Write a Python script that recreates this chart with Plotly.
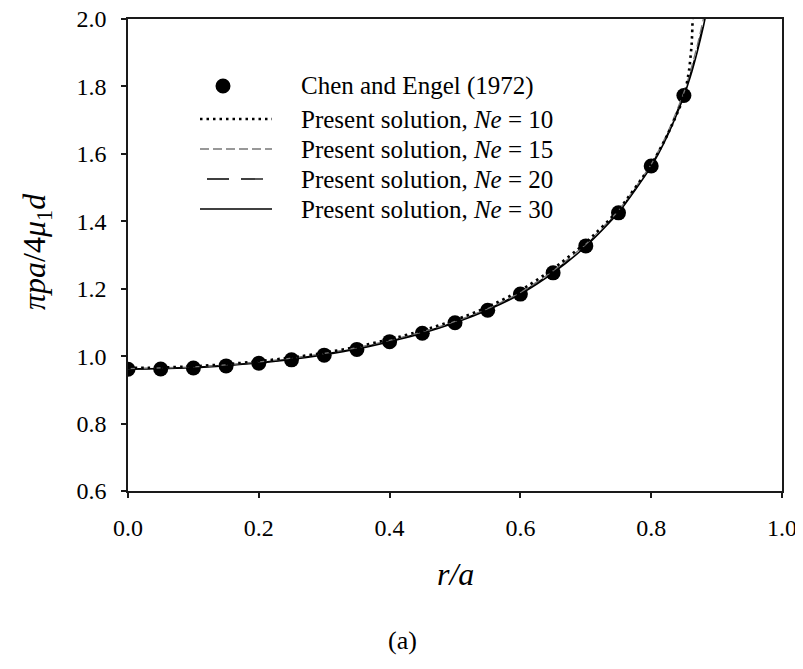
import plotly.graph_objects as go

# ---------------- data ----------------
r_exp = [0.00, 0.05, 0.10, 0.15, 0.20, 0.25, 0.30, 0.35, 0.40, 0.45,
         0.50, 0.55, 0.60, 0.65, 0.70, 0.75, 0.80, 0.85]
p_exp = [0.961, 0.962, 0.965, 0.971, 0.979, 0.989, 1.003, 1.020, 1.043, 1.068,
         1.099, 1.136, 1.184, 1.247, 1.327, 1.425, 1.564, 1.773]

r_ne30 = [0.00, 0.05, 0.10, 0.15, 0.20, 0.25, 0.30, 0.35, 0.40, 0.45, 0.50,
          0.55, 0.60, 0.65, 0.70, 0.75, 0.80, 0.825, 0.85, 0.86, 0.87, 0.88, 0.89]
p_ne30 = [0.961, 0.963, 0.966, 0.972, 0.980, 0.990, 1.004, 1.021, 1.043, 1.068, 1.099,
          1.137, 1.184, 1.247, 1.326, 1.426, 1.563, 1.655, 1.772, 1.830, 1.900, 1.980, 2.075]

r_ne20 = r_ne30
p_ne20 = [0.962, 0.964, 0.967, 0.973, 0.981, 0.992, 1.006, 1.023, 1.045, 1.070, 1.101,
          1.139, 1.187, 1.250, 1.329, 1.429, 1.566, 1.659, 1.777, 1.837, 1.908, 1.990, 2.085]

r_ne15 = r_ne30
p_ne15 = [0.963, 0.965, 0.968, 0.974, 0.983, 0.994, 1.008, 1.025, 1.047, 1.072, 1.103,
          1.141, 1.189, 1.253, 1.332, 1.432, 1.569, 1.663, 1.782, 1.845, 1.918, 2.002, 2.095]

r_ne10 = [0.00, 0.05, 0.10, 0.15, 0.20, 0.25, 0.30, 0.35, 0.40, 0.45, 0.50,
          0.55, 0.60, 0.65, 0.70, 0.75, 0.80, 0.825, 0.85, 0.858, 0.862, 0.864]
p_ne10 = [0.965, 0.966, 0.970, 0.976, 0.985, 0.996, 1.010, 1.028, 1.050, 1.076, 1.107,
          1.146, 1.195, 1.259, 1.337, 1.434, 1.568, 1.657, 1.770, 1.850, 1.930, 2.050]

x_ticks = [0.0, 0.2, 0.4, 0.6, 0.8, 1.0]
y_ticks = [0.6, 0.8, 1.0, 1.2, 1.4, 1.6, 1.8, 2.0]

legend_labels = ["Chen and Engel (1972)",
                 "Present solution, <i>Ne</i> = 10",
                 "Present solution, <i>Ne</i> = 15",
                 "Present solution, <i>Ne</i> = 20",
                 "Present solution, <i>Ne</i> = 30"]

# ---------------- figure ----------------
FONT = "Liberation Serif"
OFF = 8                      # default page (body) margin of the html page
W, H = 803 - OFF, 669 - OFF
L, R, T, B = 128 - OFF, 21, 19 - OFF, 178
PW, PH = W - L - R, H - T - B


def px_x(px):
    return (px - OFF - L) / PW


def px_y(py):
    return (OFF + H - B - py) / PH


fig = go.Figure()

fig.add_trace(go.Scatter(x=r_exp, y=p_exp, mode="markers",
                         marker=dict(symbol="circle", size=15, color="black",
                                     line=dict(width=0)),
                         showlegend=False))
fig.add_trace(go.Scatter(x=r_ne30, y=p_ne30, mode="lines",
                         line=dict(color="black", width=1.6, shape="spline", smoothing=0.6),
                         showlegend=False))
fig.add_trace(go.Scatter(x=r_ne20, y=p_ne20, mode="lines",
                         line=dict(color="black", width=1.3, dash="22px,12px",
                                   shape="spline", smoothing=0.6),
                         showlegend=False))
fig.add_trace(go.Scatter(x=r_ne15, y=p_ne15, mode="lines",
                         line=dict(color="#777777", width=1.3, dash="9px,4px",
                                   shape="spline", smoothing=0.6),
                         showlegend=False))
fig.add_trace(go.Scatter(x=r_ne10, y=p_ne10, mode="lines",
                         line=dict(color="black", width=2.6, dash="2.5px,4px",
                                   shape="spline", smoothing=0.6),
                         showlegend=False))

# ---------------- manual legend ----------------
shapes = []
annotations = []
row_y = [86, 119, 149, 179, 209]
line_styles = [None,
               dict(color="black", width=2.6, dash="2.5px,4px"),
               dict(color="#777777", width=1.3, dash="9px,4px"),
               dict(color="black", width=1.3, dash="22px,12px"),
               dict(color="black", width=1.6)]
for i, lab in enumerate(legend_labels):
    yy = px_y(row_y[i])
    if i == 0:
        shapes.append(dict(type="circle", xref="paper", yref="paper",
                           xsizemode="pixel", ysizemode="pixel",
                           xanchor=px_x(223), yanchor=yy,
                           x0=-7.5, x1=7.5, y0=-7.5, y1=7.5,
                           fillcolor="black", line=dict(width=0)))
    else:
        x_start = 207 if i == 3 else 200
        shapes.append(dict(type="line", xref="paper", yref="paper",
                           x0=px_x(x_start), x1=px_x(272), y0=yy, y1=yy,
                           line=line_styles[i]))
    annotations.append(dict(text=lab, xref="paper", yref="paper",
                            x=px_x(299), y=yy, xanchor="left", yanchor="middle",
                            showarrow=False,
                            font=dict(family=FONT, size=25, color="black")))

# axis titles and caption
annotations.append(dict(text="<i>πpa</i>/4<i>μ</i><sub>1</sub><i>d</i>",
                        xref="paper", yref="paper", x=px_x(36), y=px_y(252),
                        xanchor="center", yanchor="middle", textangle=-90,
                        showarrow=False, font=dict(family=FONT, size=32, color="black")))
annotations.append(dict(text="<i>r/a</i>", xref="paper", yref="paper",
                        x=px_x(455), y=px_y(574), xanchor="center", yanchor="middle",
                        showarrow=False, font=dict(family=FONT, size=32, color="black")))
annotations.append(dict(text="(a)", xref="paper", yref="paper",
                        x=px_x(402), y=px_y(640), xanchor="center", yanchor="middle",
                        showarrow=False, font=dict(family=FONT, size=26, color="black")))

axis_common = dict(showline=True, linecolor="#1a1a1a", linewidth=1.5, mirror=True,
                   ticks="outside", ticklen=5, tickwidth=1.5, tickcolor="#1a1a1a",
                   showgrid=False, zeroline=False, automargin=False,
                   ticklabeloverflow="allow",
                   tickfont=dict(family=FONT, size=24, color="black"))

fig.update_layout(
    template="none",
    width=W, height=H,
    margin=dict(l=L, r=R, t=T, b=B, autoexpand=False),
    paper_bgcolor="white", plot_bgcolor="white",
    showlegend=False,
    xaxis=dict(range=[0.0, 1.0], tickvals=x_ticks,
               ticktext=[f"{v:.1f}" for v in x_ticks],
               ticklabelstandoff=9, **axis_common),
    yaxis=dict(range=[0.6, 2.0], tickvals=y_ticks,
               ticktext=[f"{v:.1f}" for v in y_ticks],
               ticklabelstandoff=10, **axis_common),
    shapes=shapes,
    annotations=annotations,
)

fig.write_html("out.html")
